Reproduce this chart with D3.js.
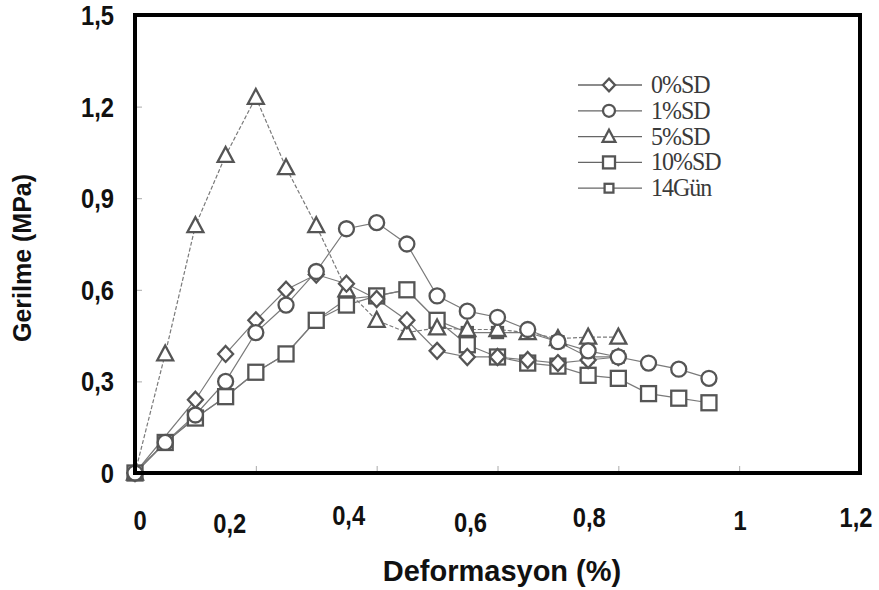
<!DOCTYPE html>
<html lang="tr">
<head>
<meta charset="UTF-8">
<title>Gerilme - Deformasyon</title>
<script src="https://d3js.org/d3.v7.min.js"></script>
<style>
  body { margin: 0; background: #fff; }
  svg { display: block; }
  .tick-label { font-family: "Liberation Sans", Arial, sans-serif; font-weight: bold; font-size: 25px; fill: #111; }
  .axis-title { font-family: "Liberation Sans", Arial, sans-serif; font-weight: bold; fill: #111; }
  .legend text { font-family: "Liberation Serif", "Times New Roman", serif; font-size: 24px; fill: #3a3a3a; letter-spacing: -1px; }
</style>
</head>
<body>
<div id="chart"></div>
<script>
// --- data ---
const seriesNames = ["0%SD", "1%SD", "5%SD", "10%SD", "14Gün"];
const markers = ["diamond", "circle", "triangle", "square", "smallsquare"];

const x0SD = [0, 0.1, 0.15, 0.2, 0.25, 0.3, 0.35, 0.4, 0.45, 0.5, 0.55, 0.6, 0.65, 0.7, 0.75, 0.8];
const y0SD = [0, 0.24, 0.39, 0.50, 0.60, 0.65, 0.62, 0.57, 0.50, 0.40, 0.38, 0.38, 0.37, 0.36, 0.37, 0.38];

const x1SD = [0, 0.05, 0.1, 0.15, 0.2, 0.25, 0.3, 0.35, 0.4, 0.45, 0.5, 0.55, 0.6, 0.65, 0.7, 0.75, 0.8, 0.85, 0.9, 0.95];
const y1SD = [0, 0.10, 0.19, 0.30, 0.46, 0.55, 0.66, 0.80, 0.82, 0.75, 0.58, 0.53, 0.51, 0.47, 0.43, 0.40, 0.38, 0.36, 0.34, 0.31];

const x5SD = [0, 0.05, 0.1, 0.15, 0.2, 0.25, 0.3, 0.35, 0.4, 0.45, 0.5, 0.55, 0.6, 0.65, 0.7, 0.75, 0.8];
const y5SD = [0, 0.39, 0.81, 1.04, 1.23, 1.00, 0.81, 0.60, 0.50, 0.46, 0.475, 0.47, 0.47, 0.46, 0.44, 0.445, 0.445];

const x10SD = [0, 0.05, 0.1, 0.15, 0.2, 0.25, 0.3, 0.35, 0.4, 0.45, 0.5, 0.55, 0.6, 0.65, 0.7, 0.75, 0.8, 0.85, 0.9, 0.95];
const y10SD = [0, 0.10, 0.18, 0.25, 0.33, 0.39, 0.50, 0.55, 0.58, 0.60, 0.50, 0.42, 0.38, 0.36, 0.35, 0.32, 0.31, 0.26, 0.245, 0.23];

const x14G = [0, 0.05, 0.1, 0.15, 0.2, 0.25, 0.3, 0.35, 0.4, 0.45, 0.5, 0.55, 0.6, 0.65, 0.7, 0.75, 0.8];
const y14G = [0, 0.10, 0.18, 0.25, 0.33, 0.39, 0.50, 0.57, 0.58, 0.60, 0.50, 0.46, 0.46, 0.46, 0.43, 0.38, 0.38];

const xTicks = [0, 0.2, 0.4, 0.6, 0.8, 1, 1.2];
const yTicks = [0, 0.3, 0.6, 0.9, 1.2, 1.5];

const xs = [x0SD, x1SD, x5SD, x10SD, x14G];
const ys = [y0SD, y1SD, y5SD, y10SD, y14G];

// --- layout ---
const width = 879, height = 590;
const margin = { left: 135, right: 19, top: 15, bottom: 117 };

const svg = d3.select("#chart").append("svg")
  .attr("width", width).attr("height", height);

const x = d3.scaleLinear().domain([0, 1.2]).range([margin.left, width - margin.right]);
const y = d3.scaleLinear().domain([0, 1.5]).range([height - margin.bottom, margin.top]);

const fmt = d => String(d).replace(".", ",");

// faint inner ticks
svg.append("g")
  .attr("transform", `translate(0,${y(0)})`)
  .call(d3.axisTop(x).tickValues(xTicks.slice(1, -1)).tickSize(7).tickFormat(""))
  .call(g => g.select(".domain").remove())
  .call(g => g.selectAll("line").attr("stroke", "#aaa"));

svg.append("g")
  .attr("transform", `translate(${x(0)},0)`)
  .call(d3.axisRight(y).tickValues(yTicks.slice(1, -1)).tickSize(7).tickFormat(""))
  .call(g => g.select(".domain").remove())
  .call(g => g.selectAll("line").attr("stroke", "#aaa"));

// x tick labels (label placement in the source is shifted from the ticks)
const xLabelDx = [5, -26, -28, -27, -29, 1, -4];
const xLabelY = [530, 533, 525, 532, 527, 530, 527];
svg.append("g").selectAll("text")
  .data(xTicks)
  .join("text")
  .attr("class", "tick-label")
  .attr("text-anchor", "middle")
  .attr("transform", (d, i) => `translate(${x(d) + xLabelDx[i]},${xLabelY[i]}) scale(0.95,1.12)`)
  .text(fmt);

svg.append("g").selectAll("text")
  .data(yTicks)
  .join("text")
  .attr("class", "tick-label")
  .attr("text-anchor", "end")
  .attr("transform", d => `translate(114,${y(d) + 10}) scale(0.95,1.12)`)
  .text(fmt);

// axis titles
svg.append("text")
  .attr("class", "axis-title")
  .style("font-size", "25px")
  .attr("transform", `translate(31,258) rotate(-90)`)
  .attr("text-anchor", "middle")
  .text("Gerilme (MPa)");

svg.append("text")
  .attr("class", "axis-title")
  .style("font-size", "29px")
  .attr("transform", "translate(502,581) scale(1,1.04)")
  .attr("text-anchor", "middle")
  .text("Deformasyon (%)");

// markers
function drawMarker(g, type, cx, cy, k = 1) {
  let el;
  if (type === "circle") {
    el = g.append("circle").attr("cx", cx).attr("cy", cy).attr("r", 7.5 * k);
  } else if (type === "square") {
    const h = 7.5 * k;
    el = g.append("rect").attr("x", cx - h).attr("y", cy - h).attr("width", 2 * h).attr("height", 2 * h);
  } else if (type === "smallsquare") {
    const h = 5.5 * k;
    el = g.append("rect").attr("x", cx - h).attr("y", cy - h).attr("width", 2 * h).attr("height", 2 * h);
  } else if (type === "triangle") {
    el = g.append("path").attr("d", `M${cx},${cy - 8.5 * k}L${cx + 8 * k},${cy + 6.5 * k}L${cx - 8 * k},${cy + 6.5 * k}Z`);
  } else {
    el = g.append("path").attr("d", `M${cx},${cy - 8 * k}L${cx + 7.5 * k},${cy}L${cx},${cy + 8 * k}L${cx - 7.5 * k},${cy}Z`);
  }
  el.attr("fill", "#fff").attr("stroke", "#555").attr("stroke-width", 2.3);
}

const line = d3.line().x(d => x(d[0])).y(d => y(d[1]));

const plot = svg.append("g");
const order = [4, 3, 2, 0, 1];
order.forEach(s => {
  const pts = xs[s].map((v, i) => [v, ys[s][i]]);
  plot.append("path")
    .datum(pts)
    .attr("d", line)
    .attr("fill", "none")
    .attr("stroke", "#7a7a7a")
    .attr("stroke-width", 1.2)
    .attr("stroke-dasharray", markers[s] === "triangle" ? "4,2" : null);
});
order.forEach(s => {
  const g = plot.append("g");
  xs[s].forEach((v, i) => drawMarker(g, markers[s], x(v), y(ys[s][i])));
});

// frame
svg.append("rect")
  .attr("x", x(0)).attr("y", y(1.5))
  .attr("width", x(1.2) - x(0)).attr("height", y(0) - y(1.5))
  .attr("fill", "none").attr("stroke", "#000").attr("stroke-width", 4);

// legend
const legend = svg.append("g").attr("class", "legend");
seriesNames.forEach((name, i) => {
  const ly = 85 + i * 25.8;
  legend.append("line")
    .attr("x1", 578).attr("x2", 642).attr("y1", ly).attr("y2", ly)
    .attr("stroke", "#666").attr("stroke-width", 1.3);
  drawMarker(legend, markers[i], 609, ly, 0.8);
  legend.append("text")
    .attr("transform", `translate(651,${ly + 8}) scale(1,1.05)`)
    .text(name);
});
</script>
</body>
</html>
